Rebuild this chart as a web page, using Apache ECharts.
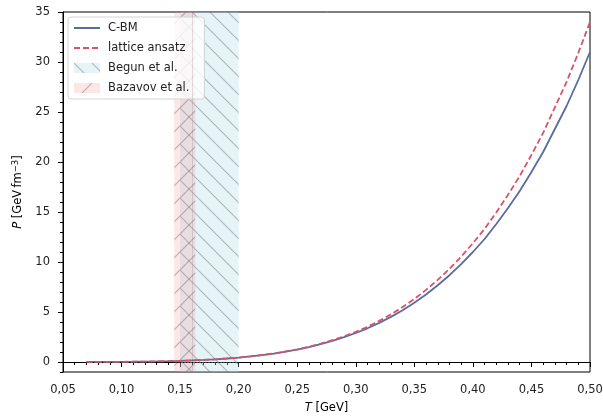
<!DOCTYPE html>
<html><head><meta charset="utf-8">
<script src="https://cdn.jsdelivr.net/npm/echarts@6/dist/echarts.min.js"></script>
<style>html,body{margin:0;padding:0;background:#fff}#c{width:603px;height:417px}</style>
</head><body><div id="c"></div>
<script>
// ---- data ----
const temperatures = [0.07,0.08,0.09,0.10,0.11,0.12,0.13,0.14,0.15,0.16,0.17,0.18,0.19,0.20,0.21,0.22,0.23,0.24,0.25,0.26,0.27,0.28,0.29,0.30,0.31,0.32,0.33,0.34,0.35,0.36,0.37,0.38,0.39,0.40,0.41,0.42,0.43,0.44,0.45,0.46,0.47,0.48,0.49,0.50];
const cbmPressure = [0.004,0.007,0.011,0.018,0.028,0.041,0.060,0.084,0.116,0.157,0.208,0.271,0.348,0.44,0.554,0.69,0.844,1.03,1.24,1.49,1.78,2.11,2.48,2.90,3.37,3.91,4.51,5.18,5.92,6.75,7.67,8.68,9.79,11.0,12.3,13.8,15.4,17.1,19.0,21.0,23.3,25.6,28.2,31.0];
const latticePressure = [0.004,0.007,0.011,0.018,0.028,0.041,0.060,0.084,0.116,0.157,0.208,0.271,0.348,0.44,0.556,0.70,0.85,1.05,1.26,1.53,1.83,2.18,2.57,3.02,3.52,4.11,4.76,5.49,6.30,7.21,8.21,9.32,10.54,11.88,13.31,14.96,16.72,18.60,20.71,22.91,25.47,28.01,30.91,34.0];
const begunRange = [0.150, 0.200];
const bazavovRange = [0.145, 0.163];
const bazavovMarker = [0.1585];
const xTickValues = [0.05,0.10,0.15,0.20,0.25,0.30,0.35,0.40,0.45,0.50];
const xTickLabels = ['0,05','0,10','0,15','0,20','0,25','0,30','0,35','0,40','0,45','0,50'];
const yTickValues = [0,5,10,15,20,25,30,35];
const yTickLabels = ['0','5','10','15','20','25','30','35'];
const seriesNames = ['C-BM','lattice ansatz','Begun et al.','Bazavov et al.'];

// ---- styles ----
const FONT = 'DejaVu Sans';
const FS = 11.5;
const blue = '#5b6c9c';
const red = '#d65369';

function hatch(fill, dir, s) {
  const c = document.createElement('canvas');
  c.width = s; c.height = s;
  const g = c.getContext('2d');
  g.fillStyle = fill; g.fillRect(0, 0, s, s);
  g.strokeStyle = 'rgba(95,95,95,0.42)';
  g.lineWidth = 1.1;
  g.beginPath();
  for (let k = -1; k <= 1; k++) {
    if (dir === '\\') { g.moveTo(k * s, 0); g.lineTo(k * s + s, s); }
    else { g.moveTo(k * s, s); g.lineTo(k * s + s, 0); }
  }
  g.stroke();
  return { image: c, repeat: 'repeat' };
}
const begunFill = hatch('rgba(173,216,230,0.30)', '\\', 18);
const bazavovFill = hatch('rgba(240,128,128,0.20)', '/', 18);

const chart = echarts.init(document.getElementById('c'), null, { renderer: 'canvas' });
const pairs = arr => temperatures.map((t, i) => [t, arr[i]]);
const noSymbol = { color: 'rgba(0,0,0,0)', borderWidth: 0, opacity: 0 };

chart.setOption({
  animation: false,
  textStyle: { fontFamily: FONT },
  grid: { left: 63, right: 13, top: 12, bottom: 45, outerBoundsMode: 'none', containLabel: false,
    show: true, borderColor: '#000', borderWidth: 1, backgroundColor: 'transparent' },
  legend: {
    orient: 'vertical', left: 68, top: 17,
    padding: [5, 15, 5, 5], itemWidth: 26, itemHeight: 10, itemGap: 8,
    backgroundColor: 'rgba(255,255,255,0.8)', borderColor: '#d4d4d4', borderWidth: 1, borderRadius: 3,
    textStyle: { fontFamily: FONT, fontSize: FS, color: '#222', padding: [0, 0, 0, 3] },
    data: [
      { name: seriesNames[0], itemStyle: noSymbol },
      { name: seriesNames[1], itemStyle: noSymbol },
      { name: seriesNames[2], icon: 'rect', itemStyle: { color: begunFill, borderWidth: 0 } },
      { name: seriesNames[3], icon: 'rect', itemStyle: { color: bazavovFill, borderWidth: 0 } }
    ]
  },
  xAxis: {
    type: 'value', min: 0.05, max: 0.50, interval: 0.05,
    name: '{i|T} [GeV]', nameLocation: 'middle', nameGap: 30,
    nameTextStyle: { fontFamily: FONT, fontSize: FS, color: '#000', rich: { i: { fontStyle: 'italic', fontFamily: FONT, fontSize: FS } } },
    axisLine: { lineStyle: { color: '#000', width: 1 } },
    axisTick: { length: 5, lineStyle: { color: '#000' }, customValues: xTickValues },
    minorTick: { show: true, splitNumber: 5, length: 3, lineStyle: { color: '#000' } },
    axisLabel: { fontFamily: FONT, fontSize: FS, color: '#222', margin: 12, customValues: xTickValues,
      formatter: v => { let j = 0; xTickValues.forEach((t, i) => { if (Math.abs(t - v) < Math.abs(xTickValues[j] - v)) j = i; }); return xTickLabels[j]; } },
    splitLine: { show: false }
  },
  yAxis: [{
    type: 'value', min: -1, max: 35, position: 'left',
    name: '{i|P} [GeV\u2009fm{s|\u22123}]', nameLocation: 'middle', nameGap: 37,
    nameTextStyle: { fontFamily: FONT, fontSize: FS, color: '#000',
      rich: { i: { fontStyle: 'italic', fontFamily: FONT, fontSize: FS },
              s: { fontFamily: FONT, fontSize: 8.5, padding: [0, 0, 6, 0] } } },
    axisLine: { lineStyle: { color: '#000', width: 1 } },
    axisTick: { length: 5, lineStyle: { color: '#000' }, customValues: yTickValues },
    axisLabel: { fontFamily: FONT, fontSize: FS, color: '#222', margin: 13, customValues: yTickValues,
      formatter: v => yTickLabels[yTickValues.indexOf(Math.round(v))] },
    splitLine: { show: false }
  }, {
    type: 'value', min: -1, max: 35, interval: 1, position: 'left', offset: 0,
    axisLine: { show: false }, axisLabel: { show: false }, splitLine: { show: false },
    axisTick: { length: 3, lineStyle: { color: '#000' } }
  }],
  series: [
    {
      name: seriesNames[2], type: 'line', data: [], z: 1, itemStyle: { color: 'rgba(173,216,230,0.5)' },
      markArea: { silent: true, itemStyle: { color: begunFill, borderWidth: 0 },
        data: [[{ xAxis: begunRange[0] }, { xAxis: begunRange[1] }]] }
    },
    {
      name: seriesNames[3], type: 'line', data: [], z: 2, itemStyle: { color: 'rgba(240,128,128,0.5)' },
      markArea: { silent: true, itemStyle: { color: bazavovFill, borderWidth: 0 },
        data: [[{ xAxis: bazavovRange[0] }, { xAxis: bazavovRange[1] }]] },
      markLine: { silent: true, symbol: 'none', label: { show: false },
        lineStyle: { color: 'rgba(120,95,100,0.2)', width: 1, type: 'solid' },
        data: [{ xAxis: bazavovMarker[0] }] }
    },
    {
      name: seriesNames[0], type: 'line', data: pairs(cbmPressure), z: 4,
      showSymbol: false, symbol: 'none', color: blue,
      lineStyle: { color: blue, width: 1.8 },
      markLine: { silent: true, symbol: 'none', label: { show: false },
        lineStyle: { color: '#000', width: 1, type: [1, 2] },
        data: [{ yAxis: 0 }] }
    },
    {
      name: seriesNames[1], type: 'line', data: pairs(latticePressure), z: 5,
      showSymbol: false, symbol: 'none', color: red,
      lineStyle: { color: red, width: 1.8, type: [6, 3] }
    }
  ]
});
</script>
</body></html>
